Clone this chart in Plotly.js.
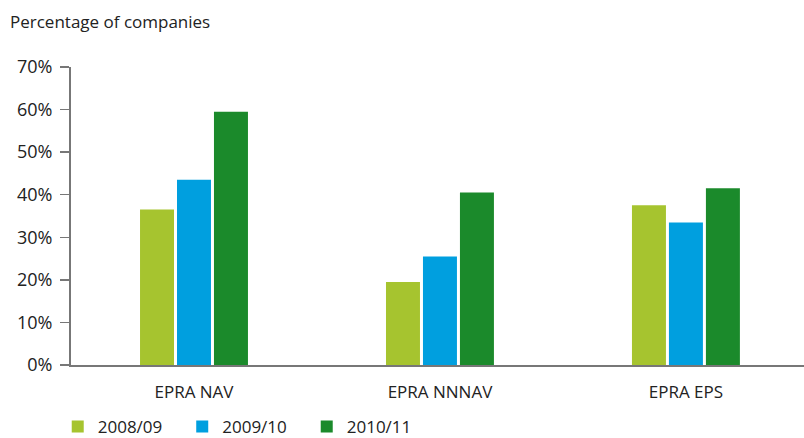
<!DOCTYPE html>
<html><head><meta charset="utf-8">
<script src="https://cdn.plot.ly/plotly-3.0.1.min.js"></script>
<style>body{margin:0;background:#fff}#chart{width:804px;height:438px}</style>
</head><body><div id="chart"></div>
<script>
const categories = ["EPRA NAV", "EPRA NNNAV", "EPRA EPS"];
const seriesNames = ["2008/09", "2009/10", "2010/11"];
const v2008 = [36.5, 19.5, 37.5];
const v2009 = [43.5, 25.5, 33.5];
const v2010 = [59.5, 40.5, 41.5];
const yTicks = [0, 10, 20, 30, 40, 50, 60, 70];
const yTickLabels = ["0%", "10%", "20%", "30%", "40%", "50%", "60%", "70%"];
const colors = ["#a6c42f", "#009fdf", "#1b8a2b"];
const values = [v2008, v2009, v2010];

const traces = values.map((vals, i) => ({
  type: "bar", name: seriesNames[i], x: categories, y: vals,
  marker: {color: colors[i]}, hoverinfo: "skip"
}));

const font = {family: "Open Sans, sans-serif", color: "#222"};
const layout = {
  width: 804, height: 438,
  margin: {l: 71, r: 0, t: 67, b: 73, autoexpand: false},
  paper_bgcolor: "#fff", plot_bgcolor: "#fff",
  font: Object.assign({size: 17}, font),
  barmode: "group", bargap: 0.549, bargroupgap: 0.081,
  title: {text: "Percentage of companies", x: 10/804, xref: "container", xanchor: "left",
          y: 1 - 22/438, yref: "container", yanchor: "middle",
          font: Object.assign({size: 17}, font)},
  xaxis: {range: [-0.5, 2.48], showgrid: false, zeroline: false, showline: true,
          linecolor: "#777", linewidth: 2, ticks: "", tickfont: Object.assign({size: 17}, font),
          ticklabelstandoff: 11, automargin: false, fixedrange: true},
  yaxis: {range: [0, 70], tickvals: yTicks, ticktext: yTickLabels, showgrid: false,
          zeroline: false, showline: true, linecolor: "#777", linewidth: 2,
          ticks: "outside", ticklen: 9, tickcolor: "#777", tickwidth: 1.5,
          tickfont: Object.assign({size: 18}, font), ticklabelstandoff: 4,
          automargin: false, fixedrange: true},
  showlegend: true,
  legend: {orientation: "h", x: -0.0181, xanchor: "left", yref: "container", y: 1 - 427/438,
           yanchor: "middle",
           font: Object.assign({size: 17}, font), entrywidth: 79.5, entrywidthmode: "pixels",
           traceorder: "normal"}
};
Plotly.newPlot("chart", traces, layout, {staticPlot: true});
</script></body></html>
